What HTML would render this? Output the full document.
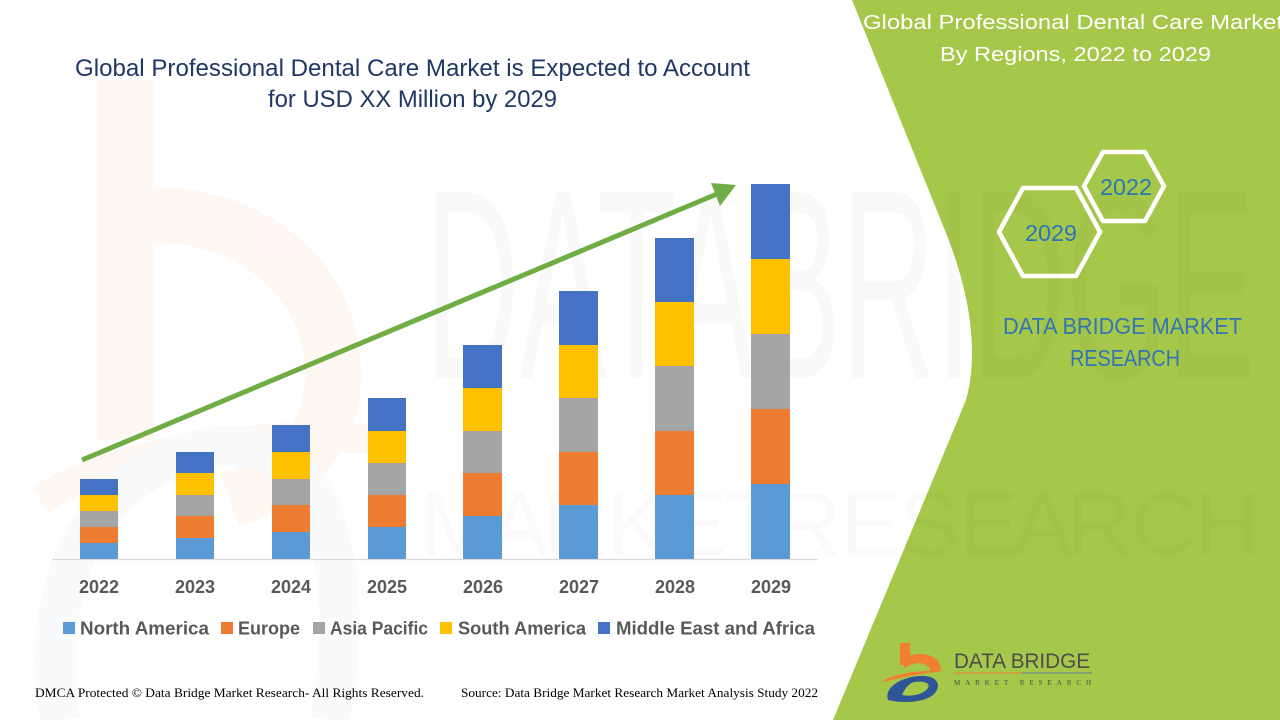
<!DOCTYPE html>
<html>
<head>
<meta charset="utf-8">
<style>
  html,body{margin:0;padding:0;background:#fff;}
  body{width:1280px;height:720px;overflow:hidden;}
  svg{display:block;}
</style>
</head>
<body>
<svg width="1280" height="720" viewBox="0 0 1280 720" xmlns="http://www.w3.org/2000/svg">
  <rect x="0" y="0" width="1280" height="720" fill="#ffffff"/>

  <!-- faint watermark b (left) -->
  <g opacity="0.45">
    <rect x="97" y="80" width="56" height="360" fill="#fdeee4"/>
    <path d="M153,215 C260,215 333,285 333,375 C333,440 290,480 230,500" fill="none" stroke="#fdeee4" stroke-width="56"/>
    <path d="M40,500 C120,450 260,430 380,440" fill="none" stroke="#fdeee4" stroke-width="30"/>
    <path d="M60,720 C40,600 80,480 200,450 C320,420 360,560 330,720" fill="none" stroke="#f1f4f8" stroke-width="40"/>
  </g>

  <!-- green panel -->
  <path d="M852,0 L1280,0 L1280,720 L833,720 L966,400 C980,350 968,290 948,238 Z" fill="#a5c84a"/>

  <!-- faint watermark text -->
  <text x="425" y="378" font-family="Liberation Sans, sans-serif" font-size="270" fill="#000" opacity="0.018" textLength="830" lengthAdjust="spacingAndGlyphs">DATABRIDGE</text>
  <text x="420" y="555" font-family="Liberation Sans, sans-serif" font-size="90" fill="#000" opacity="0.015" textLength="840" lengthAdjust="spacing">M A R K E T R E S E A R C H</text>

  <!-- Title -->
  <text x="75" y="76" font-family="Liberation Sans, sans-serif" font-size="24" fill="#203864" textLength="675" lengthAdjust="spacingAndGlyphs">Global Professional Dental Care Market is Expected to Account</text>
  <text x="268" y="107" font-family="Liberation Sans, sans-serif" font-size="24" fill="#203864" textLength="289" lengthAdjust="spacingAndGlyphs">for USD XX Million by 2029</text>

  <!-- axis -->
  <line x1="52" y1="559.5" x2="818" y2="559.5" stroke="#d9d9d9" stroke-width="1.2"/>

  <!-- bars -->
  <g>
    <rect x="80" y="543" width="38" height="16" fill="#5b9bd5"/>
    <rect x="80" y="527" width="38" height="16" fill="#ed7d31"/>
    <rect x="80" y="511" width="38" height="16" fill="#a5a5a5"/>
    <rect x="80" y="495" width="38" height="16" fill="#ffc000"/>
    <rect x="80" y="479" width="38" height="16" fill="#4472c4"/>

    <rect x="176" y="538" width="38" height="21" fill="#5b9bd5"/>
    <rect x="176" y="516" width="38" height="22" fill="#ed7d31"/>
    <rect x="176" y="495" width="38" height="21" fill="#a5a5a5"/>
    <rect x="176" y="473" width="38" height="22" fill="#ffc000"/>
    <rect x="176" y="452" width="38" height="21" fill="#4472c4"/>

    <rect x="272" y="532" width="38" height="27" fill="#5b9bd5"/>
    <rect x="272" y="505" width="38" height="27" fill="#ed7d31"/>
    <rect x="272" y="479" width="38" height="26" fill="#a5a5a5"/>
    <rect x="272" y="452" width="38" height="27" fill="#ffc000"/>
    <rect x="272" y="425" width="38" height="27" fill="#4472c4"/>

    <rect x="368" y="527" width="38" height="32" fill="#5b9bd5"/>
    <rect x="368" y="495" width="38" height="32" fill="#ed7d31"/>
    <rect x="368" y="463" width="38" height="32" fill="#a5a5a5"/>
    <rect x="368" y="431" width="38" height="32" fill="#ffc000"/>
    <rect x="368" y="398" width="38" height="33" fill="#4472c4"/>

    <rect x="463" y="516" width="39" height="43" fill="#5b9bd5"/>
    <rect x="463" y="473" width="39" height="43" fill="#ed7d31"/>
    <rect x="463" y="431" width="39" height="42" fill="#a5a5a5"/>
    <rect x="463" y="388" width="39" height="43" fill="#ffc000"/>
    <rect x="463" y="345" width="39" height="43" fill="#4472c4"/>

    <rect x="559" y="505" width="39" height="54" fill="#5b9bd5"/>
    <rect x="559" y="452" width="39" height="53" fill="#ed7d31"/>
    <rect x="559" y="398" width="39" height="54" fill="#a5a5a5"/>
    <rect x="559" y="345" width="39" height="53" fill="#ffc000"/>
    <rect x="559" y="291" width="39" height="54" fill="#4472c4"/>

    <rect x="655" y="495" width="39" height="64" fill="#5b9bd5"/>
    <rect x="655" y="431" width="39" height="64" fill="#ed7d31"/>
    <rect x="655" y="366" width="39" height="65" fill="#a5a5a5"/>
    <rect x="655" y="302" width="39" height="64" fill="#ffc000"/>
    <rect x="655" y="238" width="39" height="64" fill="#4472c4"/>

    <rect x="751" y="484" width="39" height="75" fill="#5b9bd5"/>
    <rect x="751" y="409" width="39" height="75" fill="#ed7d31"/>
    <rect x="751" y="334" width="39" height="75" fill="#a5a5a5"/>
    <rect x="751" y="259" width="39" height="75" fill="#ffc000"/>
    <rect x="751" y="184" width="39" height="75" fill="#4472c4"/>
  </g>

  <!-- arrow -->
  <line x1="82" y1="460" x2="717" y2="194" stroke="#70ad47" stroke-width="5"/>
  <polygon points="736,185 711,183 720,206" fill="#70ad47"/>

  <!-- year labels -->
  <g font-family="Liberation Sans, sans-serif" font-size="18" font-weight="bold" fill="#595959" text-anchor="middle">
    <text x="99" y="593">2022</text>
    <text x="195" y="593">2023</text>
    <text x="291" y="593">2024</text>
    <text x="387" y="593">2025</text>
    <text x="483" y="593">2026</text>
    <text x="579" y="593">2027</text>
    <text x="675" y="593">2028</text>
    <text x="771" y="593">2029</text>
  </g>

  <!-- legend -->
  <g font-family="Liberation Sans, sans-serif" font-size="18" font-weight="bold" fill="#595959">
    <rect x="63" y="622" width="12" height="12" fill="#5b9bd5"/>
    <text x="80" y="634.5" textLength="129" lengthAdjust="spacingAndGlyphs">North America</text>
    <rect x="221" y="622" width="12" height="12" fill="#ed7d31"/>
    <text x="238" y="634.5" textLength="62" lengthAdjust="spacingAndGlyphs">Europe</text>
    <rect x="313" y="622" width="12" height="12" fill="#a5a5a5"/>
    <text x="330" y="634.5" textLength="98" lengthAdjust="spacingAndGlyphs">Asia Pacific</text>
    <rect x="440" y="622" width="12" height="12" fill="#ffc000"/>
    <text x="458" y="634.5" textLength="128" lengthAdjust="spacingAndGlyphs">South America</text>
    <rect x="598" y="622" width="12" height="12" fill="#4472c4"/>
    <text x="616" y="634.5" textLength="199" lengthAdjust="spacingAndGlyphs">Middle East and Africa</text>
  </g>

  <!-- footer -->
  <text x="35" y="697" font-family="Liberation Serif, serif" font-size="13" fill="#000" textLength="389" lengthAdjust="spacingAndGlyphs">DMCA Protected © Data Bridge Market Research- All Rights Reserved.</text>
  <text x="461" y="697" font-family="Liberation Serif, serif" font-size="13" fill="#000" textLength="357" lengthAdjust="spacingAndGlyphs">Source: Data Bridge Market Research Market Analysis Study 2022</text>

  <!-- green panel title -->
  <text x="863" y="29" font-family="Liberation Sans, sans-serif" font-size="20" fill="#ffffff" textLength="420" lengthAdjust="spacingAndGlyphs">Global Professional Dental Care Market</text>
  <text x="940" y="61" font-family="Liberation Sans, sans-serif" font-size="20" fill="#ffffff" textLength="271" lengthAdjust="spacingAndGlyphs">By Regions, 2022 to 2029</text>

  <!-- hexagons -->
  <polygon points="999,232 1023,188 1076,188 1100,232 1076,276 1023,276" fill="none" stroke="#ffffff" stroke-width="4.5" stroke-linejoin="round"/>
  <polygon points="1084,186 1103,152 1145,152 1164,186 1145,221 1103,221" fill="none" stroke="#ffffff" stroke-width="4.5" stroke-linejoin="round"/>
  <text x="1051" y="241" font-family="Liberation Sans, sans-serif" font-size="23" fill="#2e75b6" text-anchor="middle" textLength="52" lengthAdjust="spacingAndGlyphs">2029</text>
  <text x="1126" y="195" font-family="Liberation Sans, sans-serif" font-size="23" fill="#2e75b6" text-anchor="middle" textLength="52" lengthAdjust="spacingAndGlyphs">2022</text>

  <!-- DATA BRIDGE MARKET RESEARCH -->
  <text x="1003" y="334" font-family="Liberation Sans, sans-serif" font-size="23" fill="#3474b4" textLength="239" lengthAdjust="spacingAndGlyphs">DATA BRIDGE MARKET</text>
  <text x="1070" y="366" font-family="Liberation Sans, sans-serif" font-size="23" fill="#3474b4" textLength="110" lengthAdjust="spacingAndGlyphs">RESEARCH</text>

  <!-- logo -->
  <g>
    <rect x="900" y="643" width="10" height="22" fill="#f07f32"/>
    <path d="M900,660 C915,650 940,652 941,670 L931,672 C929,662 915,660 905,668 Z" fill="#f07f32"/>
    <path d="M884,680 C900,672 925,670 945,671 C925,673 905,676 884,682 Z" fill="#f07f32"/>
    <path d="M888,700 C884,688 900,677 920,676 C938,675 942,686 934,694 C926,702 905,704 888,700 Z M902,695 C912,697 924,694 928,688 C931,682 922,681 914,682 C908,684 904,690 902,695 Z" fill="#2f5597" fill-rule="evenodd"/>
    <text x="954" y="668" font-family="Liberation Sans, sans-serif" font-size="21" fill="#4d4d4d" textLength="136" lengthAdjust="spacingAndGlyphs">DATA BRIDGE</text>
    <line x1="954" y1="673" x2="1022" y2="673" stroke="#f07f32" stroke-width="1"/>
    <line x1="1022" y1="673" x2="1092" y2="673" stroke="#5a7fa0" stroke-width="1"/>
    <text x="954" y="685" font-family="Liberation Serif, serif" font-size="7" fill="#4d4d4d" textLength="137" lengthAdjust="spacing">MARKET RESEARCH</text>
  </g>
</svg>
</body>
</html>
